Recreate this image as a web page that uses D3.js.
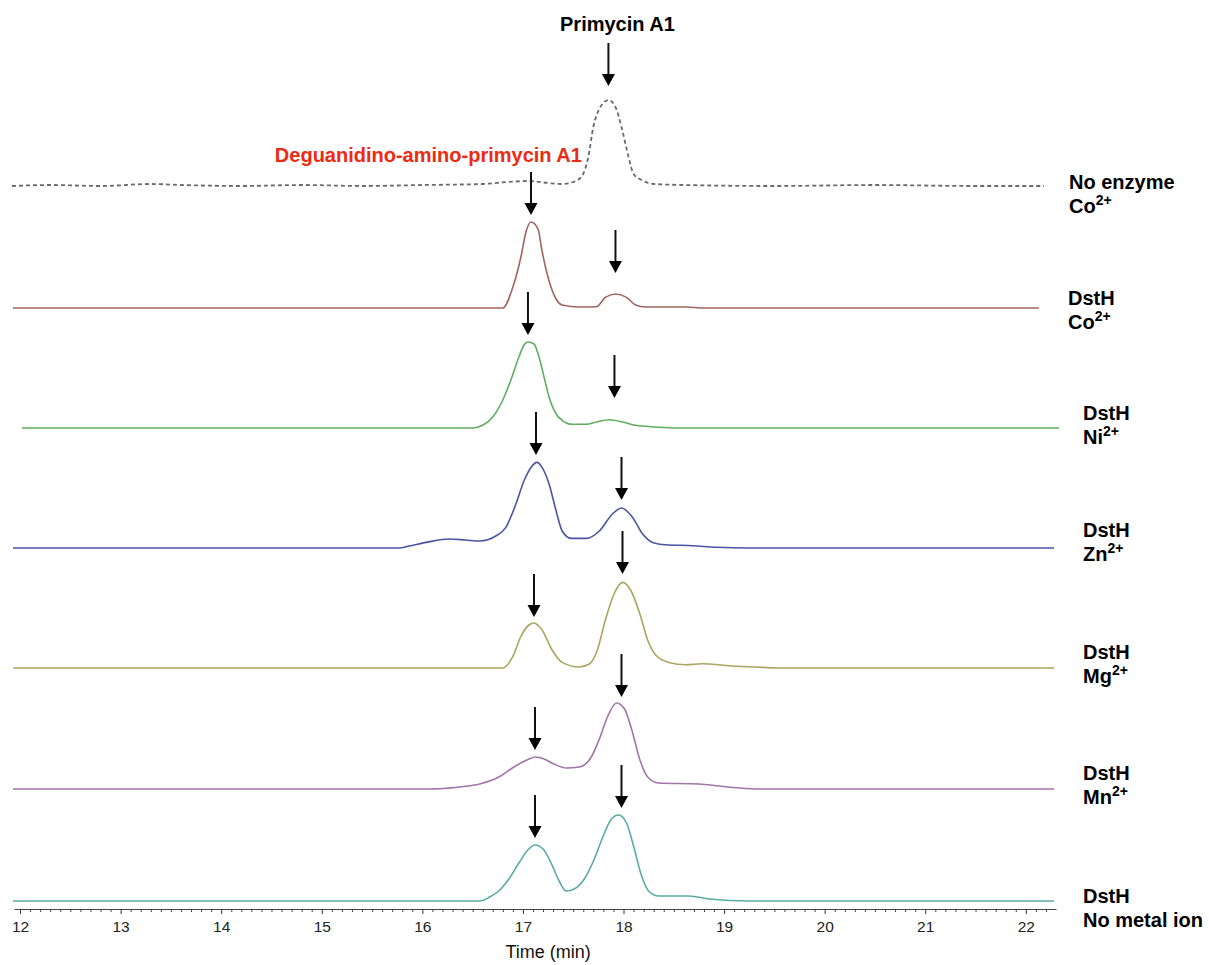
<!DOCTYPE html>
<html>
<head>
<meta charset="utf-8">
<title>DstH metal ion HPLC traces</title>
<style>
    body { margin: 0; background: #fff; }
    svg { display: block; font-family: "Liberation Sans", Arial, sans-serif; }
    .lab { font-weight: bold; font-size: 20px; fill: #000; }
    .tick text { font-size: 15.5px; fill: #222; }
</style>
</head>
<body>
<script src="https://d3js.org/d3.v7.min.js"></script>
<script>
// retention time (min) vs. signal, one array per trace
const noEnzymeCo = [[11.92,0],[12.3,1],[12.8,0],[13.3,2],[13.6,1],[14.2,0],[14.8,1],[15.4,0],[16.0,1],[16.6,2],[16.85,4],[17.06,5],[17.25,3],[17.4,2],[17.5,4],[17.58,9],[17.65,29],[17.7,59],[17.77,79],[17.85,86],[17.92,79],[17.98,59],[18.05,29],[18.1,12],[18.18,6],[18.3,2],[18.6,1],[19.5,0],[20.5,1],[21.5,0],[22.18,0]];
const dsthCo = [[11.93,0],[16.8,0],[16.9,21],[16.98,51],[17.03,76],[17.08,86],[17.15,79],[17.19,57],[17.26,27],[17.33,9],[17.39,3],[17.56,1],[17.73,1.3],[17.82,10.6],[17.92,14],[18.03,10.6],[18.12,3],[18.22,1],[18.62,1],[18.8,0],[22.13,0]];
const dsthNi = [[12.02,0],[16.5,0],[16.6,2.7],[16.7,11],[16.8,28],[16.88,48],[16.96,71],[17.01,83],[17.05,86],[17.11,84],[17.16,71],[17.21,51],[17.26,31],[17.33,14],[17.39,7.7],[17.49,3.7],[17.63,3.7],[17.73,6],[17.86,8.3],[17.99,6],[18.12,2.7],[18.32,1],[18.52,0],[22.33,0]];
const dsthZn = [[11.93,0],[15.77,0],[15.87,2],[16.04,5.6],[16.27,9],[16.43,8],[16.57,7],[16.73,12],[16.83,20.6],[16.93,44],[17.01,67],[17.08,80.6],[17.14,85.6],[17.19,80.6],[17.26,64],[17.33,37],[17.39,17],[17.48,9.6],[17.63,9.6],[17.76,17],[17.89,34],[17.98,40],[18.09,30.6],[18.19,14],[18.29,5.6],[18.42,3.3],[18.69,2.3],[18.92,0.7],[19.25,0],[22.28,0]];
const dsthMg = [[11.93,0],[16.8,0],[16.9,11.6],[16.98,31.6],[17.06,43],[17.11,45],[17.19,38],[17.29,18],[17.39,5.6],[17.56,1],[17.66,4],[17.74,18],[17.82,48],[17.91,75],[17.99,85.6],[18.07,78],[18.16,55],[18.24,28],[18.32,13],[18.45,5.6],[18.62,3.3],[18.78,4.3],[19.04,2.3],[19.31,1],[19.55,0],[22.28,0]];
const dsthMn = [[11.93,0],[16.07,0],[16.37,2],[16.57,5],[16.76,12],[16.91,22],[17.06,30],[17.13,32],[17.21,30],[17.31,25],[17.43,21],[17.56,22],[17.68,32],[17.76,50],[17.84,72],[17.93,86],[18.01,80],[18.08,60],[18.16,30],[18.24,12],[18.35,6],[18.75,5],[18.95,3],[19.15,1],[19.35,0],[22.28,0]];
const dsthNone = [[11.93,0],[16.57,0],[16.67,4],[16.76,10],[16.86,22],[16.96,38],[17.04,50],[17.12,56],[17.2,52],[17.28,38],[17.36,20],[17.43,10],[17.51,12],[17.61,22],[17.71,42],[17.81,68],[17.88,82],[17.95,86],[18.03,78],[18.1,55],[18.18,25],[18.25,10],[18.35,5],[18.65,5],[18.85,2],[19.25,0],[22.28,0]];

const traces = [noEnzymeCo, dsthCo, dsthNi, dsthZn, dsthMg, dsthMn, dsthNone];
// vertical offset of each trace in the stack (signal units)
const offsets = [785, 663, 543, 423, 303, 182, 70];
const enzymeLabels = ["No enzyme", "DstH", "DstH", "DstH", "DstH", "DstH", "DstH"];
const metalLabels = [["Co", "2+"], ["Co", "2+"], ["Ni", "2+"], ["Zn", "2+"], ["Mg", "2+"], ["Mn", "2+"], ["No metal ion", ""]];
const xTicks = [12, 13, 14, 15, 16, 17, 18, 19, 20, 21, 22];

// peak arrows: trace index, time, tip height above baseline
const arrows = [[0, 17.85, 100], [1, 17.08, 93], [1, 17.92, 35], [2, 17.05, 93], [2, 17.91, 30],
    [3, 17.13, 93], [3, 17.98, 48], [4, 17.11, 51], [4, 17.99, 94], [5, 17.12, 39], [5, 17.98, 92],
    [6, 17.12, 63], [6, 17.98, 93]];

const colors = ["#6a6a6a", "#a3645f", "#5fae5f", "#4a55a2", "#aba55f", "#a274aa", "#5aaaa8"];
const labelX = [1069, 1068, 1083, 1083, 1083, 1083, 1083];
const labelDy = [3, -3, -8, -11, -9, -9, 2];

const w = 1209, h = 965;

const x = d3.scaleLinear().domain([11.94, 22.3]).range([14, 1056]);
const y = d3.scaleLinear().domain([0, 900]).range([971, 71]);

const svg = d3.select("body")
    .append("svg")
    .attr("width", w)
    .attr("height", h);

const line = d3.line()
    .x(d => x(d[0]))
    .curve(d3.curveMonotoneX);

svg.selectAll("path.trace")
    .data(traces)
    .enter()
    .append("path")
    .attr("class", "trace")
    .attr("d", (d, i) => line.y(p => y(offsets[i] + p[1]))(d))
    .attr("fill", "none")
    .attr("stroke", (d, i) => colors[i])
    .attr("stroke-width", (d, i) => i == 0 ? 1.8 : 1.6)
    .attr("stroke-dasharray", (d, i) => i == 0 ? "4,3" : null);

// arrows
const arrowLen = 43, headH = 12, headW = 13;
const ag = svg.selectAll("g.arrow")
    .data(arrows)
    .enter()
    .append("g")
    .attr("class", "arrow")
    .attr("transform", d => `translate(${x(d[1])},${y(offsets[d[0]] + d[2])})`);

ag.append("line")
    .attr("x1", 0).attr("x2", 0)
    .attr("y1", -arrowLen).attr("y2", -headH + 1)
    .attr("stroke", "#111")
    .attr("stroke-width", 2);

ag.append("path")
    .attr("d", `M0,0L${-headW / 2},${-headH}L${headW / 2},${-headH}Z`)
    .attr("fill", "#000");

// compound labels
svg.append("text")
    .attr("class", "lab")
    .attr("x", x(17.94))
    .attr("y", 31)
    .attr("text-anchor", "middle")
    .text("Primycin A1");

svg.append("text")
    .attr("class", "lab")
    .attr("x", x(16.06))
    .attr("y", 162)
    .attr("text-anchor", "middle")
    .style("fill", "#ee2a12")
    .text("Deguanidino-amino-primycin A1");

// trace labels on the right
const lg = svg.selectAll("g.tlab")
    .data(traces)
    .enter()
    .append("g")
    .attr("class", "tlab")
    .attr("transform", (d, i) => `translate(${labelX[i]},${y(offsets[i]) + labelDy[i]})`);

lg.append("text")
    .attr("class", "lab")
    .text((d, i) => enzymeLabels[i]);

const second = lg.append("text")
    .attr("class", "lab")
    .attr("y", 24);
second.append("tspan").text((d, i) => metalLabels[i][0]);
second.append("tspan")
    .attr("dy", -8)
    .style("font-size", "14px")
    .text((d, i) => metalLabels[i][1]);

// time axis
const axisY = 909;
const minor = d3.range(120, 223).map(v => v / 10).filter(v => v % 1 != 0);

svg.append("g")
    .attr("transform", `translate(0,${axisY})`)
    .call(d3.axisBottom(x).tickValues(minor).tickSize(3).tickFormat("").tickSizeOuter(0))
    .call(g => g.selectAll(".tick line").attr("stroke", "#444"))
    .call(g => g.select(".domain").remove());

svg.append("g")
    .attr("transform", `translate(0,${axisY})`)
    .call(d3.axisBottom(x).tickValues(xTicks).tickSize(5).tickPadding(7).tickSizeOuter(0))
    .call(g => g.selectAll(".tick line").attr("stroke", "#333"))
    .call(g => g.select(".domain").attr("stroke", "#444").attr("stroke-width", 1.2))
    .call(g => g.selectAll(".tick text").style("font-family", "'Liberation Sans', Arial, sans-serif"));

svg.append("text")
    .attr("x", x(17.25))
    .attr("y", 958)
    .attr("text-anchor", "middle")
    .style("font-size", "18px")
    .attr("fill", "#111")
    .text("Time (min)");
</script>
</body>
</html>
